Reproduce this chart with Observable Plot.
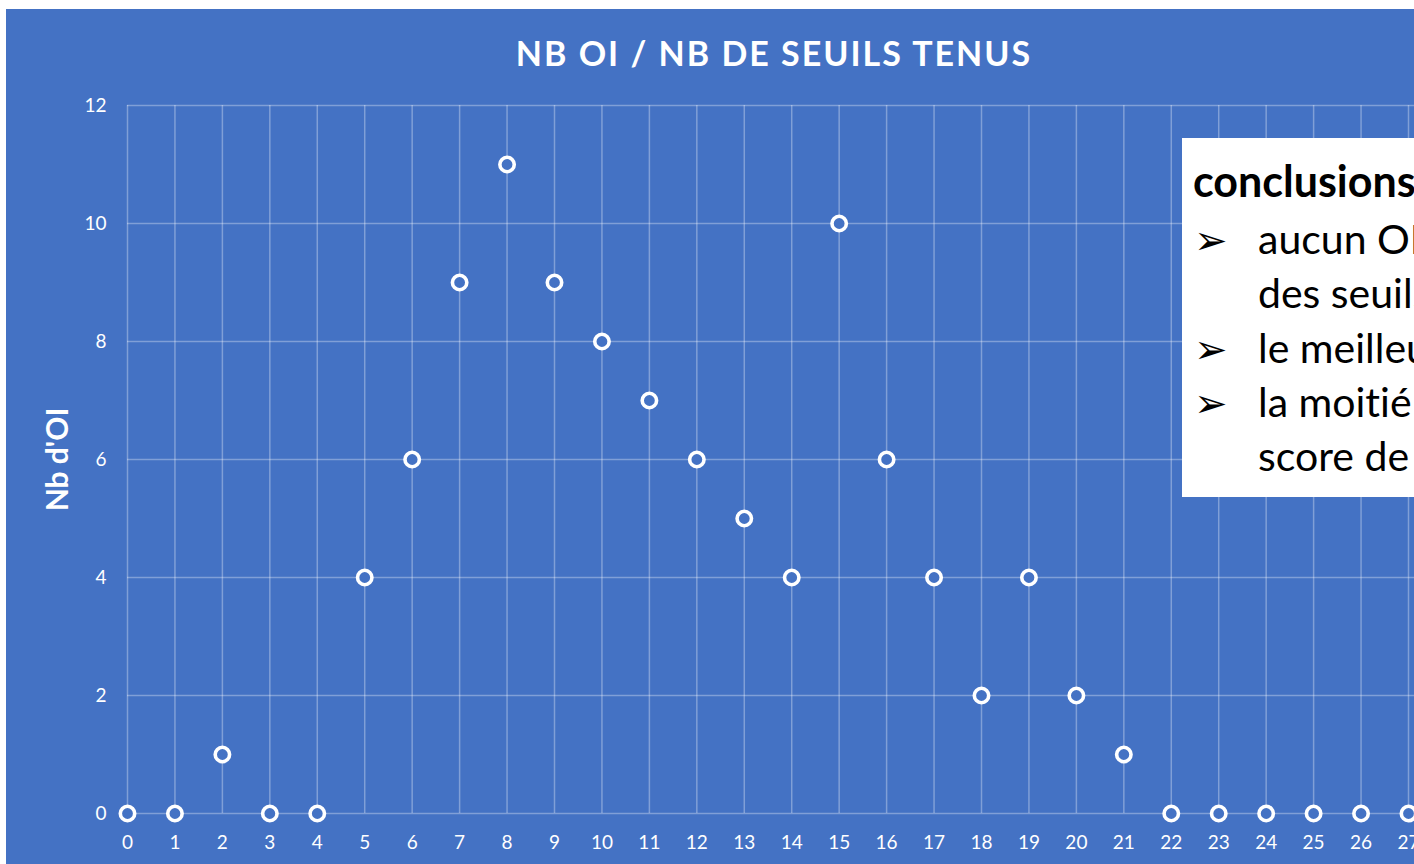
<!DOCTYPE html>
<html>
<head>
<meta charset="utf-8">
<script src="https://cdn.jsdelivr.net/npm/d3@7"></script>
<script src="https://cdn.jsdelivr.net/npm/@observablehq/plot@0.6"></script>
<style>
html, body { margin:0; padding:0; width:1414px; height:864px; overflow:hidden; background:#fff; }
#panel { position:absolute; left:6px; top:9px; width:1408px; height:855px; background:#4472C4; overflow:hidden; }
#title { position:absolute; top:0; left:768px; transform:translateX(-50%); height:80px; line-height:88px; white-space:nowrap;
  font-family:Lato, sans-serif; font-weight:700; font-size:34px; letter-spacing:2px; color:#fff; }
#chart { position:absolute; left:0; top:80px; }
#box { position:absolute; left:1176px; top:129px; width:400px; height:359px; background:#fff; color:#000; font-family:Lato, sans-serif; font-variant-ligatures:none; }
#box .l { position:absolute; white-space:nowrap; font-size:41px; line-height:1; }
#box .h { font-weight:700; font-size:43px; left:11px; }
#box .a { left:12px; font-family:"DejaVu Sans", sans-serif; font-size:40px; }
#box .t { left:76px; }
</style>
</head>
<body>
<div id="panel">
  <div id="title">NB OI / NB DE SEUILS TENUS</div>
  <div id="chart"></div>
  <div id="box"></div>
</div>
<script>
const title = "NB OI / NB DE SEUILS TENUS";
const yLabel = "Nb d'OI";
const seuils = [0,1,2,3,4,5,6,7,8,9,10,11,12,13,14,15,16,17,18,19,20,21,22,23,24,25,26,27];
const nbOI   = [0,0,1,0,0,4,6,9,11,9,8,7,6,5,4,10,6,4,2,4,2,1,0,0,0,0,0,0];
const yTicks = [0,2,4,6,8,10,12];
const conclusionTitle = "conclusions :";
const conclusionLines = [
  {bullet:true,  text:"aucun OI ne tient l'ensemble"},
  {bullet:false, text:"des seuils"},
  {bullet:true,  text:"le meilleur score est de 21 seuils"},
  {bullet:true,  text:"la moitié des OI ont un"},
  {bullet:false, text:"score de 10 ou moins"}
];

const data = seuils.map((s, i) => ({seuil: s, nb: nbOI[i]}));
const grid = "rgba(255,255,255,0.32)";

const chart = Plot.plot({
  width: 1408,
  height: 775,
  marginLeft: 121,
  marginRight: 6,
  marginTop: 16,
  marginBottom: 51,
  style: {background: "transparent", color: "#fff", fontFamily: "Lato, sans-serif", fontSize: "19px"},
  x: {domain: [0, 27], ticks: seuils, tickSize: 0, tickPadding: 22, tickFormat: d => String(d), label: null},
  y: {domain: [0, 12], ticks: yTicks, tickSize: 0, tickPadding: 21, label: null},
  marks: [
    Plot.ruleX(seuils, {x: d => d, y1: 0, y2: 12, stroke: grid, strokeWidth: 1.5}),
    Plot.ruleY(yTicks, {y: d => d, x1: 0, x2: 28, stroke: grid, strokeWidth: 1.5, clip: false}),
    Plot.dot(data, {x: "seuil", y: "nb", r: 7.2, fill: "#4472C4", stroke: "#fff", strokeWidth: 3.6}),
    Plot.text([yLabel], {text: d => d, frameAnchor: "left", textAnchor: "middle", dx: -69, rotate: -90, fill: "#fff", fontWeight: 700, fontSize: 30})
  ]
});
document.getElementById("chart").appendChild(chart);

const box = document.getElementById("box");
const h = document.createElement("div");
h.className = "l h"; h.style.top = "21px"; h.textContent = conclusionTitle;
box.appendChild(h);
conclusionLines.forEach((ln, i) => {
  const top = 80 + i * 54.3;
  if (ln.bullet) {
    const a = document.createElement("div");
    a.className = "l a"; a.style.top = (top + 2) + "px"; a.textContent = "➢";
    box.appendChild(a);
  }
  const t = document.createElement("div");
  t.className = "l t"; t.style.top = top + "px"; t.textContent = ln.text;
  box.appendChild(t);
});
</script>
</body>
</html>
